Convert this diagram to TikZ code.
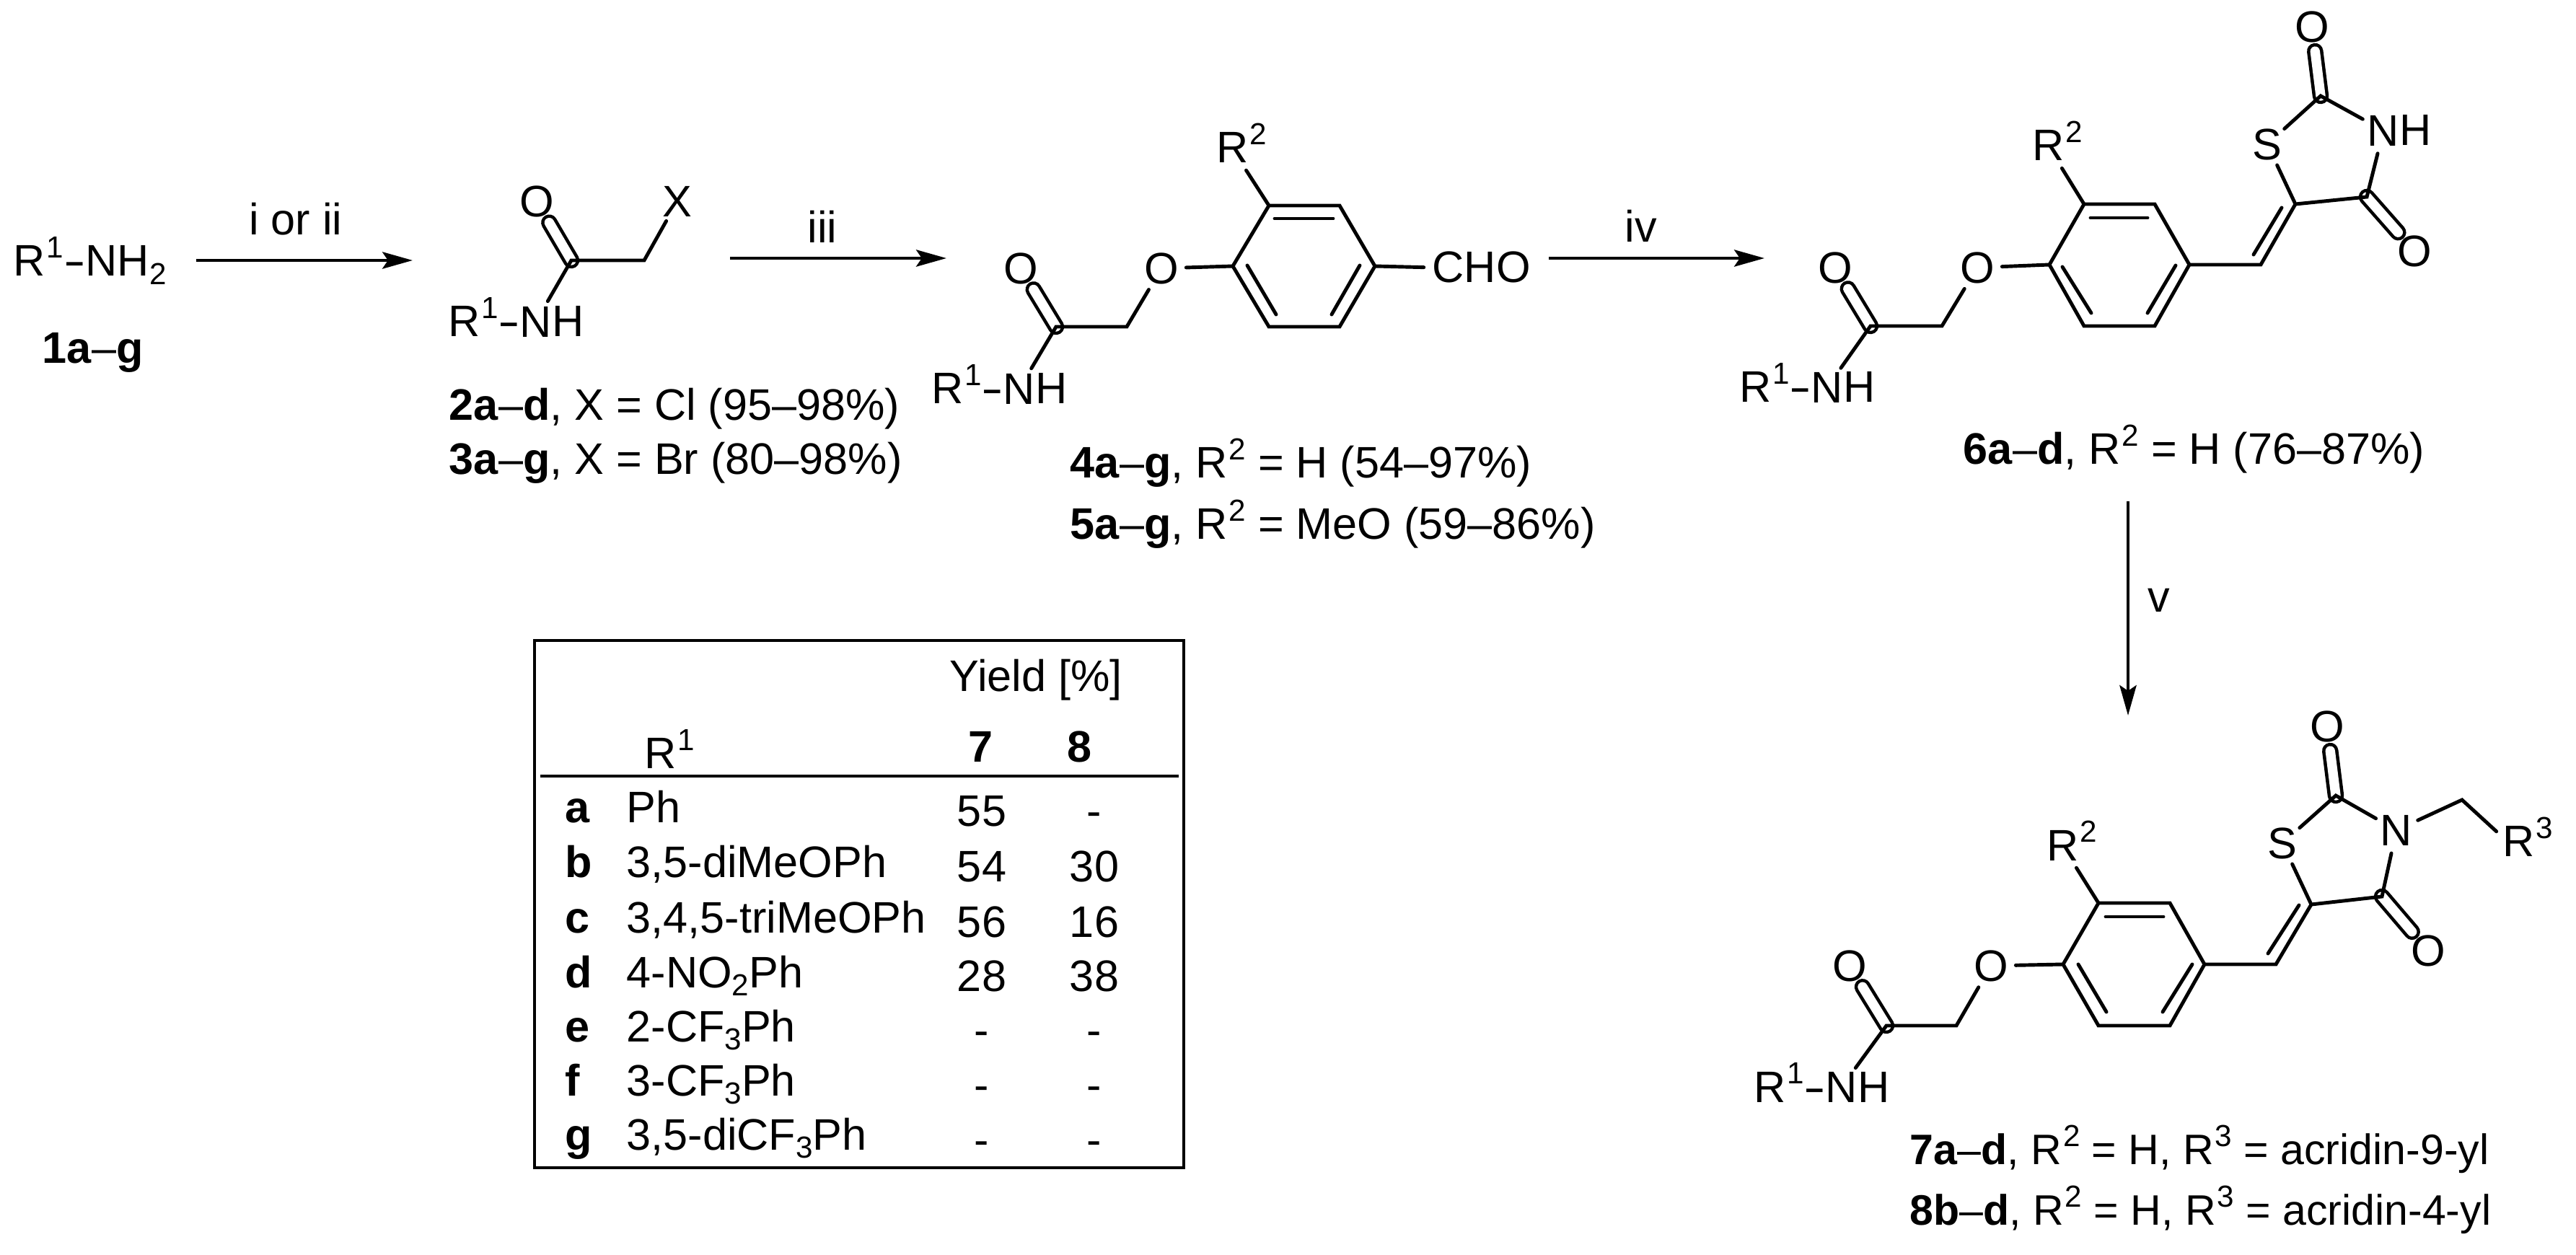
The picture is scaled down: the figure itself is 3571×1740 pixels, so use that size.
\documentclass[tikz,border=0pt]{standalone}
\usepackage{fontspec}
\setmainfont{Liberation Sans}
\usepackage{tikz}
\usetikzlibrary{arrows.meta, positioning}
\newcommand{\sups}[1]{\kern0.03em\raisebox{0.42em}{\fontsize{12}{12}\selectfont #1}}
\newcommand{\subs}[1]{\raisebox{-0.19em}{\fontsize{12}{12}\selectfont #1}}
\newcommand{\hyp}{\scalebox{1.5}[1]{-}}
\tikzset{
    bond/.style={line width=1.4pt, line join=miter, line cap=round},
    dbl/.style={line width=1.3pt, double, double distance=3.8pt, line cap=round},
    rxn/.style={line width=1.4pt, -{Stealth[length=11.9pt, width=6.6pt, inset=2.2pt]}},
    txt/.style={inner sep=0pt, anchor=base west},
    mid/.style={inner sep=0pt, anchor=base},
    atom/.style={circle, inner sep=0.3pt},
    tofree/.style={shorten >=3.2pt},
    smallish/.style={font=\fontsize{16.8}{20}\selectfont},
}

\begin{document}
\begin{tikzpicture}[x=0.01cm, y=-0.01cm, font=\fontsize{17.4}{20}\selectfont]
    \useasboundingbox (0,0) rectangle (3571,1740);

    % Amine 1
    \node[txt] (amine) at (18,383) {R\sups{1}\hyp NH\subs{2}};
    \node[txt] (lab1) at (58,504) {\textbf{1a}--\textbf{g}};

    % Arrow i or ii
    \coordinate (s1) at (272,361);
    \coordinate (e1) at (572,361);
    \draw[rxn] (s1) -- (e1);
    \node[mid] (cond1) at (410,326) {i or ii};

    % Haloacetamide 2, 3
    \coordinate (c2) at (792,361);
    \coordinate (m2) at (893,361);
    \node[atom] (o2) at (744,279) {O};
    \node[atom] (x2) at (939,279) {X};
    \node[atom] (n2) at (743,446) {N};
    \node[txt] (h2) at (765,467) {H};
    \node[txt, anchor=base east] (r2) at (722,467) {R\sups{1}\hyp};
    \draw[dbl] (c2) -- (o2);
    \draw[bond] (n2) -- (c2) -- (m2) -- (x2);
    \node[txt] (lab2) at (622,583) {\textbf{2a}--\textbf{d}, X = Cl (95--98\%)};
    \node[txt] (lab3) at (622,658) {\textbf{3a}--\textbf{g}, X = Br (80--98\%)};

    % Arrow iii
    \coordinate (s2) at (1012,358);
    \coordinate (e2) at (1312,358);
    \draw[rxn] (s2) -- (e2);
    \node[mid] (cond2) at (1140,337) {iii};

    % Aldehyde 4, 5
    \coordinate (a1) at (1759,285);
    \coordinate (a2) at (1857,285);
    \coordinate (a3) at (1906,369);
    \coordinate (a4) at (1857,453);
    \coordinate (a5) at (1759,453);
    \coordinate (a6) at (1709,369);
    \coordinate (ai1) at (1767,303);
    \coordinate (ai2) at (1848,303);
    \coordinate (ai3) at (1729,368);
    \coordinate (ai4) at (1769,436);
    \coordinate (ai5) at (1885,368);
    \coordinate (ai6) at (1846,436);
    \coordinate (ac) at (1464,453);
    \coordinate (am) at (1562,453);
    \node[atom] (ao) at (1415,372) {O};
    \node[atom] (ae) at (1610,372) {O};
    \node[atom] (an) at (1413,539) {N};
    \node[txt] (ah) at (1435,560) {H};
    \node[txt, anchor=base east] (ar1) at (1392,560) {R\sups{1}\hyp};
    \node[txt] (ar2) at (1686,226) {R\sups{2}};
    \node[txt] (acho) at (1985,392) {CHO};
    \draw[dbl] (ac) -- (ao);
    \draw[bond] (a1) -- (a2) -- (a3) -- (a4) -- (a5) -- (a6) -- cycle;
    \draw[bond] (ai1) -- (ai2);
    \draw[bond] (ai3) -- (ai4);
    \draw[bond] (ai5) -- (ai6);
    \draw[bond] (an) -- (ac) -- (am) -- (ae) -- (a6);
    \draw[bond, tofree] (a1) -- (ar2.south);
    \draw[bond, tofree] (a3) -- (acho.west);
    \node[txt] (lab4) at (1483,663) {\textbf{4a}--\textbf{g}, R\sups{2} = H (54--97\%)};
    \node[txt] (lab5) at (1483,748) {\textbf{5a}--\textbf{g}, R\sups{2} = MeO (59--86\%)};

    % Arrow iv
    \coordinate (s3) at (2147,358);
    \coordinate (e3) at (2446,358);
    \draw[rxn] (s3) -- (e3);
    \node[mid] (cond3) at (2275,336) {iv};

    % Thiazolidinedione 6
    \coordinate (b1) at (2889,283);
    \coordinate (b2) at (2987,283);
    \coordinate (b3) at (3035,367);
    \coordinate (b4) at (2987,452);
    \coordinate (b5) at (2889,452);
    \coordinate (b6) at (2841,367);
    \coordinate (bi1) at (2898,302);
    \coordinate (bi2) at (2977,302);
    \coordinate (bi3) at (2859,370);
    \coordinate (bi4) at (2899,434);
    \coordinate (bi5) at (3016,368);
    \coordinate (bi6) at (2977,434);
    \coordinate (bc) at (2593,452);
    \coordinate (bm) at (2692,452);
    \coordinate (bch) at (3134,367);
    \coordinate (bc5) at (3182,283);
    \coordinate (bc4) at (3281,273);
    \coordinate (bc2) at (3217,133);
    \coordinate (bd1) at (3124,353);
    \coordinate (bd2) at (3163,288);
    \node[atom] (bo) at (2544,371) {O};
    \node[atom] (be) at (2741,371) {O};
    \node[atom] (bn) at (2533,537) {N};
    \node[txt] (bh) at (2555,558) {H};
    \node[txt, anchor=base east] (br1) at (2512,558) {R\sups{1}\hyp};
    \node[txt] (br2) at (2817,223) {R\sups{2}};
    \node[atom] (bs) at (3143,200) {S};
    \node[atom] (bnh) at (3304,181) {N};
    \node[txt] (bhh) at (3326,202) {H};
    \node[atom] (bo2) at (3205,37) {O};
    \node[atom] (bo4) at (3347,348) {O};
    \draw[dbl] (bc) -- (bo);
    \draw[dbl] (bc2) -- (bo2);
    \draw[dbl] (bc4) -- (bo4);
    \draw[bond] (b1) -- (b2) -- (b3) -- (b4) -- (b5) -- (b6) -- cycle;
    \draw[bond] (bi1) -- (bi2);
    \draw[bond] (bi3) -- (bi4);
    \draw[bond] (bi5) -- (bi6);
    \draw[bond] (bn) -- (bc) -- (bm) -- (be) -- (b6);
    \draw[bond, tofree] (b1) -- (br2.south);
    \draw[bond] (b3) -- (bch) -- (bc5) -- (bc4) -- (bnh) -- (bc2) -- (bs) -- (bc5);
    \draw[bond] (bd1) -- (bd2);
    \node[txt] (lab6) at (2721,644) {\textbf{6a}--\textbf{d}, R\sups{2} = H (76--87\%)};

    % Arrow v
    \coordinate (s4) at (2950,695);
    \coordinate (e4) at (2950,992);
    \draw[rxn] (s4) -- (e4);
    \node[mid] (cond4) at (2993,849) {v};

    % Acridine products 7, 8
    \coordinate (d1) at (2909,1252);
    \coordinate (d2) at (3008,1252);
    \coordinate (d3) at (3056,1337);
    \coordinate (d4) at (3008,1422);
    \coordinate (d5) at (2909,1422);
    \coordinate (d6) at (2860,1337);
    \coordinate (di1) at (2919,1271);
    \coordinate (di2) at (2999,1271);
    \coordinate (di3) at (2881,1337);
    \coordinate (di4) at (2920,1403);
    \coordinate (di5) at (3039,1337);
    \coordinate (di6) at (2998,1403);
    \coordinate (dc) at (2615,1422);
    \coordinate (dm) at (2712,1422);
    \coordinate (dch) at (3155,1337);
    \coordinate (dc5) at (3204,1254);
    \coordinate (dc4) at (3302,1243);
    \coordinate (dc2) at (3238,1103);
    \coordinate (dd1) at (3144,1322);
    \coordinate (dd2) at (3187,1255);
    \coordinate (dm3) at (3413,1109);
    \node[atom] (do) at (2564,1339) {O};
    \node[atom] (de) at (2760,1339) {O};
    \node[atom] (dn) at (2553,1507) {N};
    \node[txt] (dh) at (2575,1528) {H};
    \node[txt, anchor=base east] (dr1) at (2532,1528) {R\sups{1}\hyp};
    \node[txt] (dr2) at (2837,1193) {R\sups{2}};
    \node[txt] (dr3) at (3469,1188) {R\sups{3}};
    \node[atom] (ds) at (3164,1169) {S};
    \node[atom] (dnn) at (3322,1151) {N};
    \node[atom] (do2) at (3226,1007) {O};
    \node[atom] (do4) at (3366,1318) {O};
    \draw[dbl] (dc) -- (do);
    \draw[dbl] (dc2) -- (do2);
    \draw[dbl] (dc4) -- (do4);
    \draw[bond] (d1) -- (d2) -- (d3) -- (d4) -- (d5) -- (d6) -- cycle;
    \draw[bond] (di1) -- (di2);
    \draw[bond] (di3) -- (di4);
    \draw[bond] (di5) -- (di6);
    \draw[bond] (dn) -- (dc) -- (dm) -- (de) -- (d6);
    \draw[bond, tofree] (d1) -- (dr2.south);
    \draw[bond] (d3) -- (dch) -- (dc5) -- (dc4) -- (dnn) -- (dc2) -- (ds) -- (dc5);
    \draw[bond] (dd1) -- (dd2);
    \draw[bond, tofree] (dnn) -- (dm3) -- (dr3.west);
    \node[txt, smallish] (lab7) at (2647,1614) {\textbf{7a}--\textbf{d}, R\sups{2} = H, R\sups{3} = acridin-9-yl};
    \node[txt, smallish] (lab8) at (2647,1698) {\textbf{8b}--\textbf{d}, R\sups{2} = H, R\sups{3} = acridin-4-yl};

    % Table of yields
    \coordinate (tabnw) at (741,888);
    \coordinate (tabse) at (1641,1619);
    \coordinate (rulew) at (749,1076);
    \coordinate (rulee) at (1634,1076);
    \draw[line width=1.3pt] (tabnw) rectangle (tabse);
    \draw[line width=1.4pt] (rulew) -- (rulee);
    \node[txt] (yield) at (1316,959) {Yield [\%]};
    \node[txt] (headr) at (893,1066) {R\sups{1}};
    \node[mid] (head7) at (1360,1057) {\textbf{7}};
    \node[mid] (head8) at (1497,1057) {\textbf{8}};

    \node[txt] (rowa) at (783,1141) {\textbf{a}};
    \node[txt] (rowb) at (783,1216) {\textbf{b}};
    \node[txt] (rowc) at (783,1293) {\textbf{c}};
    \node[txt] (rowd) at (783,1369) {\textbf{d}};
    \node[txt] (rowe) at (783,1444) {\textbf{e}};
    \node[txt] (rowf) at (783,1519) {\textbf{f}};
    \node[txt] (rowg) at (783,1594) {\textbf{g}};

    \node[txt] (subsa) at (868,1141) {Ph};
    \node[txt] (subsb) at (868,1216) {3,5-diMeOPh};
    \node[txt] (subsc) at (868,1293) {3,4,5-triMeOPh};
    \node[txt] (subsd) at (868,1369) {4-NO\subs{2}Ph};
    \node[txt] (subse) at (868,1444) {2-CF\subs{3}Ph};
    \node[txt] (subsf) at (868,1519) {3-CF\subs{3}Ph};
    \node[txt] (subsg) at (868,1594) {3,5-diCF\subs{3}Ph};

    \node[mid] (ya7) at (1361,1146) {55};
    \node[mid] (ya8) at (1517,1146) {-};
    \node[mid] (yb7) at (1361,1222) {54};
    \node[mid] (yb8) at (1517,1222) {30};
    \node[mid] (yc7) at (1361,1299) {56};
    \node[mid] (yc8) at (1517,1299) {16};
    \node[mid] (yd7) at (1361,1374) {28};
    \node[mid] (yd8) at (1517,1374) {38};
    \node[mid] (ye7) at (1361,1449) {-};
    \node[mid] (ye8) at (1517,1449) {-};
    \node[mid] (yf7) at (1361,1525) {-};
    \node[mid] (yf8) at (1517,1525) {-};
    \node[mid] (yg7) at (1361,1601) {-};
    \node[mid] (yg8) at (1517,1601) {-};
\end{tikzpicture}
\end{document}
